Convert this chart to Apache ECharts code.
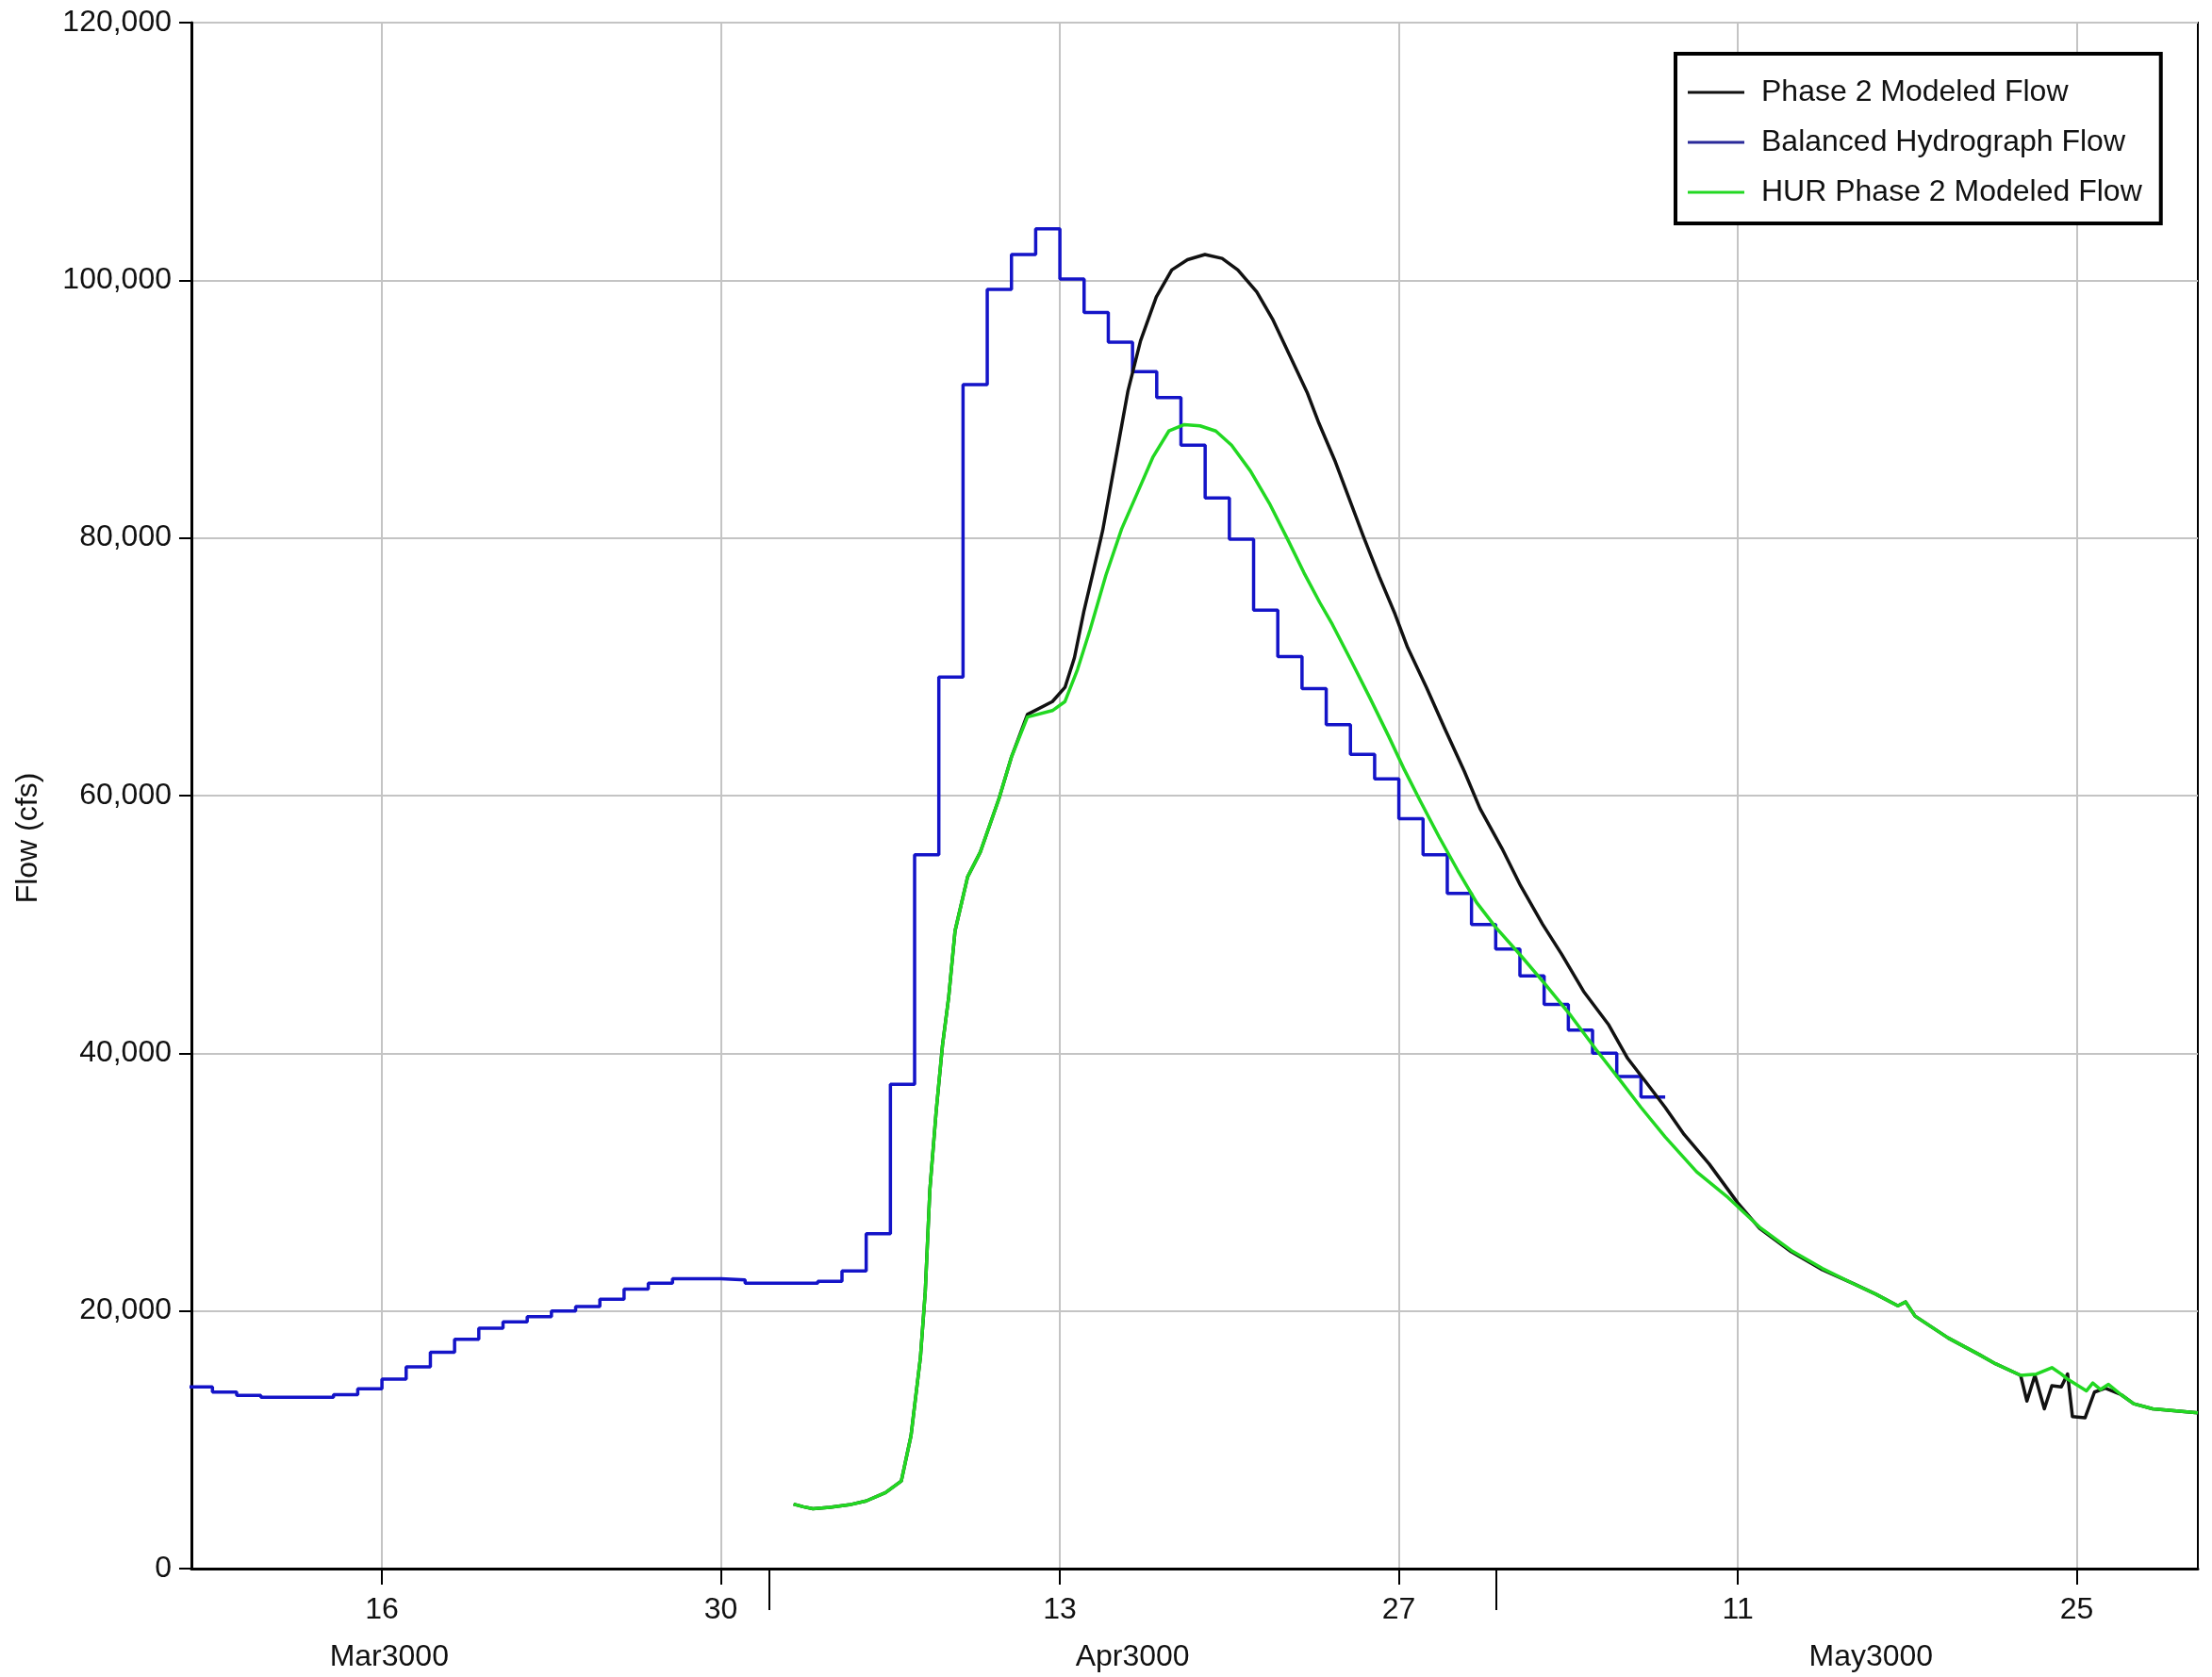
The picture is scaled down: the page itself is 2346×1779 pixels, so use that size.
<!DOCTYPE html>
<html>
<head>
<meta charset="utf-8">
<script src="https://cdn.jsdelivr.net/npm/echarts@6/dist/echarts.min.js"></script>
<style>
html,body{margin:0;padding:0;background:#fff;}
#chart{width:2346px;height:1779px;}
</style>
</head>
<body>
<div id="chart"></div>
<script>
// x = day counted from Mar 0 (Mar d -> d, Apr d -> 31+d, May d -> 61+d)
const xTickValues = [16, 30, 44, 58, 72, 86];
const xTickLabels = ['16', '30', '13', '27', '11', '25'];
const monthCenters = [16.3, 47, 77.5];
const monthLabels = ['Mar3000', 'Apr3000', 'May3000'];
const monthBoundaries = [32, 62];

// Balanced Hydrograph Flow: daily values (value holds from day d to d+1)
const blueDays = [8,9,10,11,12,13,14,15,16,17,18,19,20,21,22,23,24,25,26,27,28,29,30,31,32,33,34,35,36,37,38,39,40,41,42,43,44,45,46,47,48,49,50,51,52,53,54,55,56,57,58,59,60,61,62,63,64,65,66,67,68,69];
const blueFlow = [14100,13700,13450,13300,13300,13300,13500,13950,14700,15650,16800,17800,18650,19150,19550,20000,20350,20900,21700,22150,22500,22500,22400,22150,22150,22150,22300,23100,26000,37600,55400,69200,91900,99300,102000,104000,100100,97500,95200,92900,90900,87200,83100,79900,74400,70800,68300,65500,63200,61300,58200,55400,52400,50000,48100,46000,43800,41800,40000,38200,36600,36600];

// Phase 2 Modeled Flow
const phase2Days = [33.0,33.4,33.8,34.5,35.3,36.0,36.8,37.45,37.85,38.24,38.44,38.63,38.89,39.15,39.41,39.67,40.19,40.71,41.49,42.0,42.66,43.69,44.21,44.6,44.99,45.38,45.77,46.29,46.81,47.33,47.98,48.62,49.27,49.99,50.7,51.35,52.13,52.78,53.56,54.21,54.7,55.38,56.02,56.54,57.19,57.84,58.36,59.14,59.92,60.7,61.35,62.26,63.03,63.94,64.72,65.63,66.67,67.45,68.23,69.0,69.78,70.82,71.99,72.9,74.2,75.49,76.79,77.7,78.61,78.93,79.32,80.69,81.98,82.64,83.68,83.94,84.27,84.66,84.97,85.36,85.62,85.82,86.34,86.73,87.18,87.83,88.35,89.13,91.0];
const phase2Flow = [5000,4800,4650,4750,4950,5250,5900,6800,10300,16400,21500,29400,35500,40600,44400,49500,53700,55600,59800,63000,66300,67300,68400,70700,74300,77400,80600,86000,91400,95300,98700,100800,101600,102000,101700,100800,99100,97000,93900,91300,88900,85900,82700,80100,77000,74100,71500,68400,65100,61900,59000,55900,53000,50000,47700,44800,42200,39600,37700,35800,33700,31400,28400,26400,24600,23200,22100,21300,20400,20700,19600,17900,16600,15900,15000,13000,15000,12400,14200,14100,15100,11800,11700,13700,14000,13500,12800,12400,12100];

// HUR Phase 2 Modeled Flow
const hurDays = [33.0,33.4,33.8,34.5,35.3,36.0,36.8,37.45,37.85,38.24,38.44,38.63,38.89,39.15,39.41,39.67,40.19,40.71,41.49,42.0,42.66,43.69,44.21,44.73,45.25,45.9,46.55,47.2,47.85,48.5,49.14,49.79,50.44,51.09,51.87,52.65,53.43,54.08,54.73,55.25,56.02,56.8,57.58,58.23,58.88,59.66,60.43,61.21,61.99,63.03,64.07,65.11,66.14,67.18,68.0,69.0,70.3,71.6,72.9,74.2,75.49,76.79,77.7,78.61,78.93,79.32,80.69,81.98,82.64,83.68,84.33,84.97,85.36,85.62,86.4,86.66,86.98,87.31,87.83,88.35,89.13,91.0];
const hurFlow = [5000,4800,4650,4750,4950,5250,5900,6800,10300,16400,21500,29400,35500,40600,44400,49500,53700,55600,59800,63000,66100,66600,67300,69800,72900,77100,80700,83500,86300,88300,88800,88700,88300,87200,85200,82700,79800,77300,75000,73300,70500,67600,64600,62000,59600,56800,54200,51700,49800,47600,45300,42900,40300,37800,35800,33500,30800,28800,26500,24700,23300,22100,21300,20400,20700,19600,17900,16600,15900,15000,15100,15600,15100,14700,13800,14400,13900,14300,13500,12800,12400,12100];

const zip = (xs, ys) => xs.map((x, i) => [x, ys[i]]);
const FONT = "'Liberation Sans', Arial, sans-serif";
const X_MIN = 8.13, X_MAX = 91.0;
const C_BLACK = '#111111', C_BLUE = '#1414c8', C_GREEN = '#22d822';

const chart = echarts.init(document.getElementById('chart'), null, {renderer: 'canvas'});
chart.setOption({
  backgroundColor: '#ffffff',
  animation: false,
  textStyle: {fontFamily: FONT},
  grid: {
    left: 203, right: 15, top: 24, bottom: 115,
    show: true, borderColor: '#000', borderWidth: 2, backgroundColor: 'transparent'
  },
  legend: {
    orient: 'vertical',
    left: 1777, top: 57,
    padding: [25, 20, 17, 13],
    borderColor: '#000', borderWidth: 4, backgroundColor: '#fff',
    itemWidth: 60, itemHeight: 3, itemGap: 21,
    textStyle: {fontFamily: FONT, fontSize: 32, color: '#111', padding: [0, 0, 0, 13], lineHeight: 32},
    data: [
      {name: 'Phase 2 Modeled Flow', icon: 'rect', itemStyle: {color: C_BLACK}},
      {name: 'Balanced Hydrograph Flow', icon: 'rect', itemStyle: {color: '#2a2a9a'}},
      {name: 'HUR Phase 2 Modeled Flow', icon: 'rect', itemStyle: {color: C_GREEN}}
    ]
  },
  xAxis: [
    {
      type: 'value', min: X_MIN, max: X_MAX, position: 'bottom',
      axisLine: {show: true, onZero: false, lineStyle: {color: '#000', width: 3}},
      axisTick: {show: true, length: 17, customValues: xTickValues, lineStyle: {color: '#000', width: 2}},
      axisLabel: {
        customValues: xTickValues, margin: 28, fontSize: 32, color: '#111', fontFamily: FONT,
        formatter: v => { const i = xTickValues.indexOf(v); return i >= 0 ? xTickLabels[i] : ''; }
      },
      splitLine: {show: true, lineStyle: {color: '#c4c4c4', width: 2}}
    },
    {
      type: 'value', min: X_MIN, max: X_MAX, position: 'bottom', offset: 71,
      axisLine: {show: false},
      axisTick: {show: true, length: 44, customValues: monthBoundaries, lineStyle: {color: '#000', width: 2}},
      axisLabel: {
        customValues: monthCenters, margin: 7, fontSize: 32, color: '#111', fontFamily: FONT,
        formatter: v => { const i = monthCenters.indexOf(v); return i >= 0 ? monthLabels[i] : ''; }
      },
      splitLine: {show: false}
    }
  ],
  yAxis: {
    type: 'value', min: 0, max: 120000, interval: 20000,
    name: 'Flow (cfs)', nameLocation: 'middle', nameGap: 157,
    nameTextStyle: {fontSize: 32, color: '#111', fontFamily: FONT, padding: [0, 90, 0, 0]},
    axisLine: {show: true, lineStyle: {color: '#000', width: 3}},
    axisTick: {show: true, length: 13, lineStyle: {color: '#000', width: 2}},
    axisLabel: {
      margin: 21, fontSize: 32, color: '#111', fontFamily: FONT,
      formatter: v => v.toLocaleString('en-US')
    },
    splitLine: {show: true, lineStyle: {color: '#c4c4c4', width: 2}}
  },
  series: [
    {
      name: 'Phase 2 Modeled Flow', type: 'line', z: 3, xAxisIndex: 0,
      data: zip(phase2Days, phase2Flow), symbol: 'none', smooth: false,
      lineStyle: {color: C_BLACK, width: 3.5, join: 'round'}, itemStyle: {color: C_BLACK}
    },
    {
      name: 'Balanced Hydrograph Flow', type: 'line', z: 2, xAxisIndex: 0,
      data: zip(blueDays, blueFlow), symbol: 'none', step: 'end',
      lineStyle: {color: C_BLUE, width: 3.5}, itemStyle: {color: C_BLUE}
    },
    {
      name: 'HUR Phase 2 Modeled Flow', type: 'line', z: 4, xAxisIndex: 0,
      data: zip(hurDays, hurFlow), symbol: 'none', smooth: false,
      lineStyle: {color: C_GREEN, width: 3.5, join: 'round'}, itemStyle: {color: C_GREEN}
    }
  ]
});
</script>
</body>
</html>
